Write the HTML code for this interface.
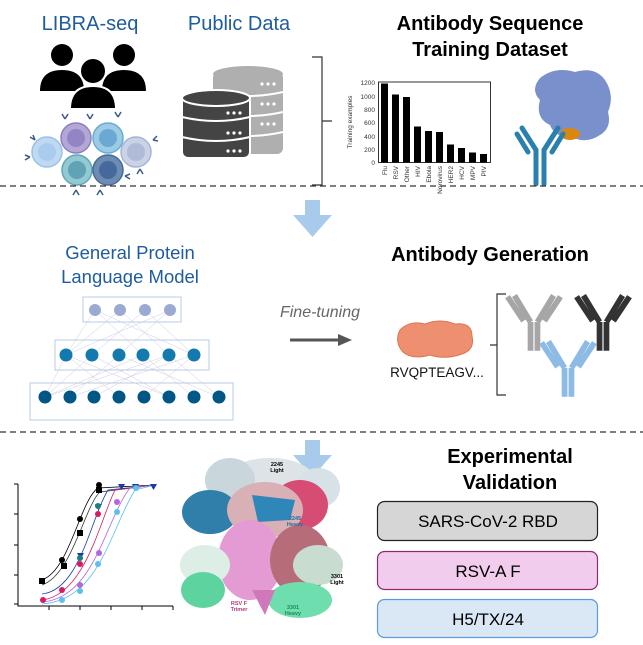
<!DOCTYPE html>
<html><head><meta charset="utf-8"><style>
html,body{margin:0;padding:0;background:#fff;}
svg{display:block;font-family:"Liberation Sans",Arial,sans-serif;}
</style></head><body>
<svg width="643" height="645" viewBox="0 0 643 645" xmlns="http://www.w3.org/2000/svg">
<defs>
<g id="ab">
<path d="M-3 0 L-17 -23 M-9 -1 L-23 -22 M3 0 L17 -23 M9 -1 L23 -22 M-3 0 V25 M3 0 V25" stroke-width="5" fill="none"/>
</g>
</defs>
<text x="90" y="30" font-size="20" fill="#1F5C9E" text-anchor="middle">LIBRA-seq</text>
<text x="239" y="30" font-size="20" fill="#1F5C9E" text-anchor="middle">Public Data</text>
<text x="490" y="30" font-size="20" font-weight="bold" text-anchor="middle">Antibody Sequence</text>
<text x="490" y="56" font-size="20" font-weight="bold" text-anchor="middle">Training Dataset</text>
<g fill="#000">
<circle cx="62" cy="55" r="11"/><path d="M40 91 Q40 70 62 70 Q84 70 84 91 Z"/>
<circle cx="124" cy="55" r="11"/><path d="M102 91 Q102 70 124 70 Q146 70 146 91 Z"/>
<circle cx="93" cy="71" r="12"/><path d="M70 109 Q70 86 93 86 Q116 86 116 109 Z" stroke="#fff" stroke-width="2"/>
</g>
<g stroke-width="1.5">
<circle cx="47" cy="152" r="15" fill="#BFD9F2" stroke="#9BC2E6"/><circle cx="47" cy="152" r="9" fill="#A9CCEE"/>
<circle cx="76" cy="138" r="15" fill="#B3A7D6" stroke="#8E7FC0"/><circle cx="76" cy="138" r="9" fill="#9385C4"/>
<circle cx="108" cy="138" r="15" fill="#9CCBE5" stroke="#6AABD3"/><circle cx="108" cy="138" r="9" fill="#6BA9D2"/>
<circle cx="136" cy="152" r="15" fill="#C9D2E6" stroke="#A7B4D4"/><circle cx="136" cy="152" r="9" fill="#B0BBD7"/>
<circle cx="77" cy="170" r="15" fill="#93C9D3" stroke="#5FA7B7"/><circle cx="77" cy="170" r="9" fill="#5FA3B4"/>
<circle cx="108" cy="170" r="15" fill="#6D8CB3" stroke="#4A6A98"/><circle cx="108" cy="170" r="9" fill="#47689A"/>
</g>
<g stroke="#3A5C8C" stroke-width="1.5" fill="none">
<path d="M65 119 l-3 -5 M65 119 l3 -5 M90 119 l-3 -5 M90 119 l3 -5 M118 117 l-3 -5 M118 117 l3 -5 M30 157 l-5 -2 M30 157 l-5 3 M153 140 l4 -4 M153 140 l5 1 M140 169 l3 5 M140 169 l-3 5 M76 190 l-3 5 M76 190 l3 5 M100 190 l-3 5 M100 190 l3 5 M125 176 l5 -2 M125 176 l5 3 M35 140 l-5 -3 M35 140 l-2 -5"/>
</g>
<g fill="#AFAFAF">
<rect x="213" y="72" width="70" height="82" rx="6"/>
<ellipse cx="248" cy="74" rx="35" ry="8"/>
</g>
<g stroke="#fff" stroke-width="2" fill="none"><path d="M213 92 Q248 100 283 92 M213 112 Q248 120 283 112 M213 132 Q248 140 283 132"/></g>
<g fill="#fff"><circle cx="262" cy="104" r="1.6"/><circle cx="268" cy="104" r="1.6"/><circle cx="274" cy="104" r="1.6"/><circle cx="262" cy="124" r="1.6"/><circle cx="268" cy="124" r="1.6"/><circle cx="274" cy="124" r="1.6"/><circle cx="262" cy="84" r="1.6"/><circle cx="268" cy="84" r="1.6"/><circle cx="274" cy="84" r="1.6"/></g>
<rect x="182" y="96" width="68" height="62" rx="6" fill="#444" stroke="#fff" stroke-width="2"/>
<ellipse cx="216" cy="98" rx="34" ry="8" fill="#444" stroke="#fff" stroke-width="2"/>
<g stroke="#fff" stroke-width="2" fill="none"><path d="M182 117 Q216 125 250 117 M182 137 Q216 145 250 137"/></g>
<g fill="#fff"><circle cx="228" cy="113" r="1.6"/><circle cx="234" cy="113" r="1.6"/><circle cx="240" cy="113" r="1.6"/><circle cx="228" cy="133" r="1.6"/><circle cx="234" cy="133" r="1.6"/><circle cx="240" cy="133" r="1.6"/><circle cx="228" cy="151" r="1.6"/><circle cx="234" cy="151" r="1.6"/><circle cx="240" cy="151" r="1.6"/></g>
<path d="M312 57 H322 V185 H312 M322 121 H332" stroke="#333" stroke-width="1.2" fill="none"/>
<g font-size="6.5" fill="#333">
<rect x="378.5" y="82" width="112" height="80.5" fill="none" stroke="#000" stroke-width="0.8"/>
<g fill="#000">
<rect x="381" y="83.5" width="7" height="79"/><rect x="392" y="94.5" width="7" height="68"/><rect x="403" y="97" width="7" height="65.5"/><rect x="414" y="126.5" width="7" height="36"/><rect x="425" y="131" width="7" height="31.5"/><rect x="436" y="132" width="7" height="30.5"/><rect x="447" y="144.5" width="7" height="18"/><rect x="458" y="148" width="7" height="14.5"/><rect x="469" y="152.5" width="7" height="10"/><rect x="480" y="154" width="7" height="8.5"/>
</g>
<g text-anchor="end"><text x="375" y="85">1200</text><text x="375" y="99">1000</text><text x="375" y="112">800</text><text x="375" y="125">600</text><text x="375" y="139">400</text><text x="375" y="152">200</text><text x="375" y="165">0</text></g>
<text transform="translate(352,122) rotate(-90)" text-anchor="middle">Training examples</text>
<g text-anchor="end">
<text transform="translate(387,166) rotate(-90)">Flu</text><text transform="translate(398,166) rotate(-90)">RSV</text><text transform="translate(409,166) rotate(-90)">Other</text><text transform="translate(420,166) rotate(-90)">HIV</text><text transform="translate(431,166) rotate(-90)">Ebola</text><text transform="translate(442,166) rotate(-90)">Norovirus</text><text transform="translate(453,166) rotate(-90)">HER2</text><text transform="translate(464,166) rotate(-90)">HCV</text><text transform="translate(475,166) rotate(-90)">MPV</text><text transform="translate(486,166) rotate(-90)">PIV</text>
</g>
</g>
<path d="M540 78 Q555 66 575 72 Q595 66 605 80 Q615 95 608 112 Q612 128 600 135 Q585 145 570 136 Q555 138 550 125 Q535 118 540 100 Q530 90 540 78Z" fill="#6A84C6" opacity="0.9"/>
<ellipse cx="570" cy="134" rx="10" ry="6" fill="#D9870F"/>
<g stroke="#2A7FAE" stroke-width="5" stroke-linecap="round" fill="none">
<path d="M536 184 V150 L522 128 M544 184 V150 L558 128 M517 134 L528 152 M563 134 L552 152"/>
</g>
<line x1="0" y1="186" x2="643" y2="186" stroke="#333" stroke-width="1.3" stroke-dasharray="6,4"/>
<line x1="0" y1="432" x2="643" y2="432" stroke="#333" stroke-width="1.3" stroke-dasharray="6,4"/>
<path d="M305 200 H320 V215 H332 L312.5 237 L293 215 H305Z" fill="#A9CBEB"/>
<path d="M305 440 H320 V455 H332 L312.5 477 L293 455 H305Z" fill="#A9CBEB"/>
<text x="130" y="259" font-size="18.5" fill="#1F5C9E" text-anchor="middle">General Protein</text>
<text x="130" y="283" font-size="18.5" fill="#1F5C9E" text-anchor="middle">Language Model</text>
<text x="490" y="261" font-size="20" font-weight="bold" text-anchor="middle">Antibody Generation</text>
<g stroke="#ccd" stroke-width="0.5">
<path d="M95 310 L66 355 M95 310 L143 355 M95 310 L194 355 M120 310 L66 355 M120 310 L169 355 M145 310 L92 355 M145 310 L194 355 M170 310 L66 355 M170 310 L119 355 M66 355 L45 397 M66 355 L119 397 M92 355 L45 397 M92 355 L169 397 M119 355 L70 397 M119 355 L219 397 M143 355 L45 397 M143 355 L194 397 M169 355 L94 397 M169 355 L219 397 M194 355 L144 397 M194 355 L70 397 M66 355 L169 397 M169 355 L45 397"/>
</g>
<g fill="none" stroke="#B8CBE6" stroke-width="1">
<rect x="83" y="297" width="98" height="25"/><rect x="55" y="340" width="154" height="30"/><rect x="30" y="383" width="203" height="37"/>
</g>
<g fill="#9AAAD3"><circle cx="95" cy="310" r="6"/><circle cx="120" cy="310" r="6"/><circle cx="145" cy="310" r="6"/><circle cx="170" cy="310" r="6"/></g>
<g fill="#1479AE"><circle cx="66" cy="355" r="6.5"/><circle cx="92" cy="355" r="6.5"/><circle cx="119" cy="355" r="6.5"/><circle cx="143" cy="355" r="6.5"/><circle cx="169" cy="355" r="6.5"/><circle cx="194" cy="355" r="6.5"/></g>
<g fill="#005684"><circle cx="45" cy="397" r="6.5"/><circle cx="70" cy="397" r="6.5"/><circle cx="94" cy="397" r="6.5"/><circle cx="119" cy="397" r="6.5"/><circle cx="144" cy="397" r="6.5"/><circle cx="169" cy="397" r="6.5"/><circle cx="194" cy="397" r="6.5"/><circle cx="219" cy="397" r="6.5"/></g>
<text x="320" y="317" font-size="16" font-style="italic" fill="#666" text-anchor="middle">Fine-tuning</text>
<path d="M290 340 H340" stroke="#555" stroke-width="3"/><path d="M338 334 L352 340 L338 346Z" fill="#555"/>
<path d="M400 330 Q410 320 425 324 Q440 318 455 324 Q472 322 472 336 Q475 350 462 354 Q445 360 430 355 Q412 360 403 352 Q394 342 400 330Z" fill="#EE9070" stroke="#D9764F"/>
<text x="437" y="377" font-size="13.5" fill="#111" text-anchor="middle">RVQPTEAGV...</text>
<path d="M506 294 H497 V395 H506 M497 345 H490" stroke="#333" stroke-width="1.2" fill="none"/>
<g transform="translate(534,322) scale(1.15)" stroke="#A6A6A6"><use href="#ab"/></g>
<g transform="translate(603,322) scale(1.15)" stroke="#333333"><use href="#ab"/></g>
<g transform="translate(568,368) scale(1.15)" stroke="#8DBBE6"><use href="#ab"/></g>
<text x="510" y="463" font-size="20" font-weight="bold" text-anchor="middle">Experimental</text>
<text x="510" y="489" font-size="20" font-weight="bold" text-anchor="middle">Validation</text>
<rect x="377.5" y="501.5" width="220" height="39" rx="7" fill="#D6D6D6" stroke="#222" stroke-width="1.2"/>
<text x="488" y="527" font-size="17" text-anchor="middle">SARS-CoV-2 RBD</text>
<rect x="377.5" y="551.5" width="220" height="38" rx="7" fill="#F2CCEC" stroke="#8B2B73" stroke-width="1.2"/>
<text x="488" y="577" font-size="17" text-anchor="middle">RSV-A F</text>
<rect x="377.5" y="599.5" width="220" height="38" rx="7" fill="#DAE8F6" stroke="#5A9BD8" stroke-width="1.2"/>
<text x="488" y="625" font-size="17" text-anchor="middle">H5/TX/24</text>
<g stroke="#000" stroke-width="1" fill="none">
<path d="M18 484 V606 H173"/>
<path d="M14 484 H18 M14 514 H18 M14 545 H18 M14 575 H18 M14 604 H18 M49 606 V610 M80 606 V610 M111 606 V610 M142 606 V610 M173 606 V610"/>
</g>
<g fill="none" stroke-width="0.8">
<path d="M42 580 C70 570 80 500 98 488 L155 485" stroke="#000"/>
<path d="M42 585 C72 575 85 505 100 492 L155 485" stroke="#333"/>
<path d="M42 594 C80 590 90 520 108 490 L155 485" stroke="#1A3AAA"/>
<path d="M42 600 C85 595 100 520 115 490 L155 485" stroke="#D81B60"/>
<path d="M42 602 C95 598 105 520 130 488 L155 485" stroke="#B266E0"/>
<path d="M42 604 C100 600 110 530 135 490 L155 485" stroke="#5BC0F0"/>
</g>
<g fill="#000"><rect x="39" y="578" width="6" height="6"/><rect x="61" y="563" width="6" height="6"/><rect x="77" y="530" width="6" height="6"/><rect x="96" y="487" width="6" height="6"/><circle cx="80" cy="519" r="3"/><circle cx="62" cy="560" r="3"/><circle cx="99" cy="485" r="3"/></g>
<g fill="#1A3AAA"><path d="M77 553 h7 l-3.5 6z M95 504 h7 l-3.5 6z M132 484 h7 l-3.5 6z M150 484 h7 l-3.5 6z M118 484 h7 l-3.5 6z"/></g>
<g fill="#D81B60"><circle cx="98" cy="514" r="3"/><circle cx="80" cy="564" r="3"/><circle cx="62" cy="590" r="3"/><circle cx="43" cy="600" r="3"/></g>
<g fill="#1A8080"><circle cx="80" cy="558" r="3"/><circle cx="98" cy="506" r="3"/></g>
<g fill="#B266E0"><circle cx="117" cy="502" r="3"/><circle cx="99" cy="553" r="3"/><circle cx="80" cy="585" r="3"/></g>
<g fill="#5BC0F0"><circle cx="117" cy="512" r="3"/><circle cx="98" cy="564" r="3"/><circle cx="80" cy="591" r="3"/><circle cx="62" cy="600" r="3"/><circle cx="136" cy="488" r="3"/></g>
<g>
<ellipse cx="270" cy="480" rx="45" ry="22" fill="#DDE3E6"/>
<ellipse cx="230" cy="480" rx="25" ry="22" fill="#C9D6DC"/>
<ellipse cx="318" cy="488" rx="22" ry="20" fill="#D6E2E6"/>
<ellipse cx="210" cy="512" rx="28" ry="22" fill="#2F7FAA"/>
<ellipse cx="300" cy="505" rx="28" ry="25" fill="#D64C73"/>
<ellipse cx="265" cy="510" rx="38" ry="28" fill="#D8B0B5"/>
<path d="M252 495 L295 500 L290 520 L258 522Z" fill="#2E86B9"/>
<ellipse cx="250" cy="560" rx="32" ry="40" fill="#E49BD3"/>
<ellipse cx="300" cy="560" rx="30" ry="35" fill="#B76C7A"/>
<ellipse cx="205" cy="565" rx="25" ry="20" fill="#DDEEE6"/>
<ellipse cx="203" cy="590" rx="22" ry="18" fill="#5DD4A0"/>
<ellipse cx="318" cy="565" rx="25" ry="20" fill="#C8DCCF"/>
<ellipse cx="300" cy="600" rx="32" ry="18" fill="#6FDEAE"/>
<path d="M252 590 L265 615 L275 590Z" fill="#D078BA"/>
</g>
<g font-size="5.5" font-weight="bold" text-anchor="middle">
<text x="277" y="466">2245</text><text x="277" y="472">Light</text>
<text x="295" y="520" fill="#1D6E9C">2245</text><text x="295" y="526" fill="#1D6E9C">Heavy</text>
<text x="239" y="605" fill="#B13A7A">RSV F</text><text x="239" y="611" fill="#B13A7A">Trimer</text>
<text x="293" y="609" fill="#1F8A5C">3301</text><text x="293" y="615" fill="#1F8A5C">Heavy</text>
<text x="337" y="578">3301</text><text x="337" y="584">Light</text>
</g>
</svg>
</body></html>
